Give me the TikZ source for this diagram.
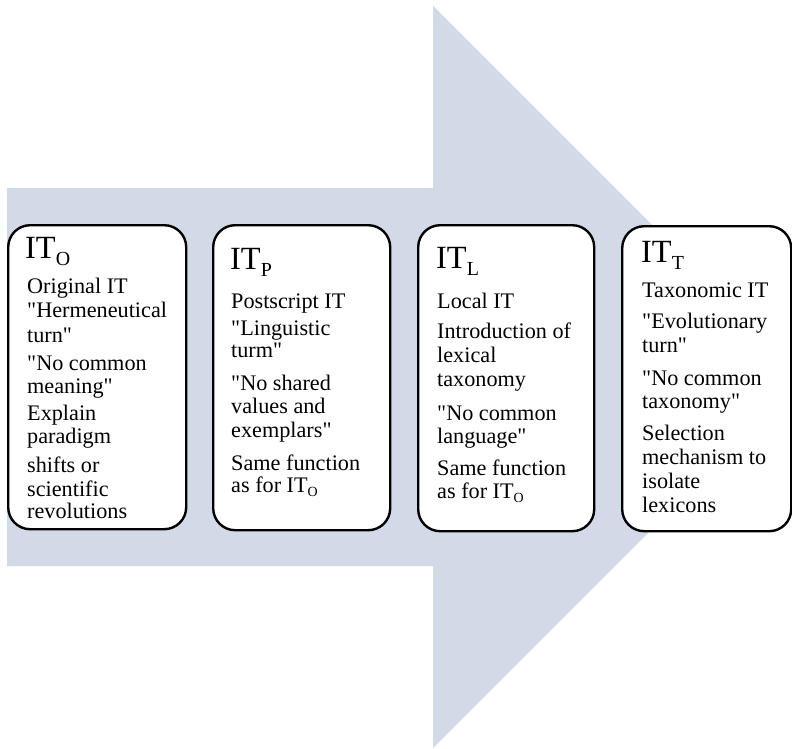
\documentclass[tikz,border=0pt]{standalone}
\usepackage{fontspec}
\setmainfont{Liberation Serif}[Ligatures=TeXOff]
\definecolor{arrowfill}{RGB}{210,218,232}
\newcommand{\hsub}[1]{\raisebox{-7bp}{\fontsize{20}{20}\selectfont #1}}
\newcommand{\bsub}[1]{\raisebox{-4bp}{\fontsize{14}{14}\selectfont #1}}
\newcommand{\qq}{\symbol{34}}
\tikzset{
  itbox/.style={draw=black, line width=2.4bp, fill=white, rounded corners=22bp,
    anchor=north west, inner sep=0pt},
  headtext/.style={font=\fontsize{32.5}{34}\selectfont, inner sep=0pt, anchor=base west},
  bodytext/.style={font=\fontsize{22.3}{23}\selectfont, inner sep=0pt, anchor=base west}
}
\begin{document}
\begin{tikzpicture}[x=1bp,y=-1bp]
\useasboundingbox (0,0) rectangle (792,749);
\clip (0,0) rectangle (792,749);
% big arrow
\fill[arrowfill] (7,188) -- (433,188) -- (433,6) -- (804,377) -- (433,748) -- (433,566) -- (7,566) -- cycle;
% boxes
\node[itbox, minimum width=178bp, minimum height=304bp] (b1) at (7,224) {};
\node[itbox, minimum width=177bp, minimum height=305bp] (b2) at (212,224) {};
\node[itbox, minimum width=176bp, minimum height=306bp] (b3) at (417,224) {};
\node[itbox, minimum width=169bp, minimum height=305bp] (b4) at (621,225) {};
% headings
\node[headtext] (h1) at (25,258) {IT\hsub{O}};
\node[headtext] (h2) at (230,269) {IT\hsub{P}};
\node[headtext] (h3) at (436,268) {IT\hsub{L}};
\node[headtext] (h4) at (641,262) {IT\hsub{T}};
% box 1 text
\foreach \y/\t [count=\i] in {293/Original IT, 317/\qq Hermeneutical, 342/turn\qq, 370/\qq No common, 393/meaning\qq, 420/Explain, 443/paradigm, 472/shifts or, 496/scientific, 518/revolutions}
  \node[bodytext] (t1-\i) at (27,\y) {\t};
% box 2 text
\foreach \y/\t [count=\i] in {308/Postscript IT, 335/\qq Linguistic, 357/turm\qq, 390/\qq No shared, 413/values and, 437/exemplars\qq, 470/Same function, 492/as for IT\bsub{O}}
  \node[bodytext] (t2-\i) at (231,\y) {\t};
% box 3 text
\foreach \y/\t [count=\i] in {308/Local IT, 338/Introduction of, 362/lexical, 386/taxonomy, 420/\qq No common, 443/language\qq, 475/Same function, 498/as for IT\bsub{O}}
  \node[bodytext] (t3-\i) at (437,\y) {\t};
% box 4 text
\foreach \y/\t [count=\i] in {297/Taxonomic IT, 328/\qq Evolutionary, 352/turn\qq, 385/\qq No common, 408/taxonomy\qq, 440/Selection, 464/mechanism to, 488/isolate, 512/lexicons}
  \node[bodytext] (t4-\i) at (642,\y) {\t};
\end{tikzpicture}
\end{document}
